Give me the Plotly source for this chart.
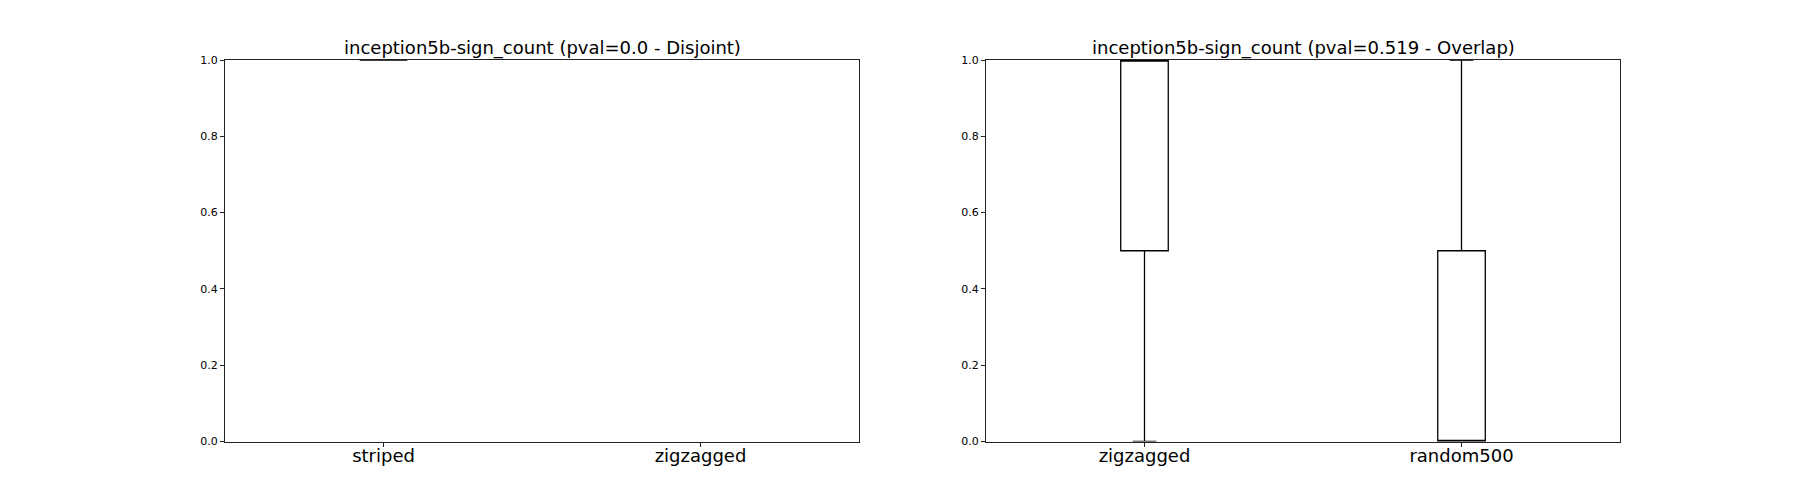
import plotly.graph_objects as go

# Left panel: striped vs zigzagged (pval=0.0 - Disjoint)
left_title = "inception5b-sign_count (pval=0.0 - Disjoint)"
left_categories = ["striped", "zigzagged"]
left_q1 = [1.0, None]
left_median = [1.0, None]
left_q3 = [1.0, None]
left_lower = [1.0, None]
left_upper = [1.0, None]

# Right panel: zigzagged vs random500 (pval=0.519 - Overlap)
right_title = "inception5b-sign_count (pval=0.519 - Overlap)"
right_categories = ["zigzagged", "random500"]
right_q1 = [0.5, 0.0]
right_median = [1.0, 0.0]
right_q3 = [1.0, 0.5]
right_lower = [0.0, 0.0]
right_upper = [1.0, 1.0]

y_ticks = [0.0, 0.2, 0.4, 0.6, 0.8, 1.0]

W, H = 1800, 504
OFF = 8  # page body margin offset

fig = go.Figure()

def add_boxes(cats, q1, med, q3, lo, hi, xa, ya):
    for i, c in enumerate(cats):
        if q1[i] is None:
            continue
        fig.add_trace(go.Box(
            x=[i + 1], q1=[q1[i]], median=[med[i]], q3=[q3[i]],
            lowerfence=[lo[i]], upperfence=[hi[i]],
            width=0.15, whiskerwidth=0.5,
            line=dict(color="black", width=1.3),
            fillcolor="rgba(255,255,255,0)",
            boxpoints=False, showlegend=False, hoverinfo="skip",
            xaxis=xa, yaxis=ya, name=c,
        ))

add_boxes(left_categories, left_q1, left_median, left_q3, left_lower, left_upper, "x", "y")
add_boxes(right_categories, right_q1, right_median, right_q3, right_lower, right_upper, "x2", "y2")

axis_common = dict(showline=True, linecolor="#222", linewidth=1, mirror=True,
                   showgrid=False, zeroline=False, ticks="outside", ticklen=4,
                   tickcolor="#222", automargin=False)
ydom = [1 - (441.5 - OFF) / H, 1 - (60 - OFF) / H]
xdom1 = [(225 - OFF) / W, (859 - OFF) / W]
xdom2 = [(986 - OFF) / W, (1620 - OFF) / W]
title_y = 1 - (48 - OFF) / H

fig.update_layout(
    width=W, height=H,
    margin=dict(l=0, r=0, t=0, b=0),
    paper_bgcolor="white", plot_bgcolor="white",
    font=dict(family="DejaVu Sans", color="black"),
    xaxis=dict(domain=xdom1, range=[0.5, 2.5],
               tickvals=[1, 2], ticktext=left_categories,
               tickfont=dict(size=18), ticklabelstandoff=-6, **axis_common),
    xaxis2=dict(domain=xdom2, range=[0.5, 2.5],
                tickvals=[1, 2], ticktext=right_categories,
                tickfont=dict(size=18), ticklabelstandoff=-6, anchor="y2", **axis_common),
    yaxis=dict(domain=ydom, range=[0, 1], tickvals=y_ticks,
               ticktext=[f"{v:.1f}" for v in y_ticks],
               tickfont=dict(size=11), **axis_common),
    yaxis2=dict(domain=ydom, range=[0, 1], tickvals=y_ticks,
                ticktext=[f"{v:.1f}" for v in y_ticks],
                tickfont=dict(size=11), anchor="x2", **axis_common),
    annotations=[
        dict(text=left_title, x=(xdom1[0] + xdom1[1]) / 2, y=title_y,
             xref="paper", yref="paper", xanchor="center", yanchor="middle",
             showarrow=False, font=dict(size=18)),
        dict(text=right_title, x=(xdom2[0] + xdom2[1]) / 2, y=title_y,
             xref="paper", yref="paper", xanchor="center", yanchor="middle",
             showarrow=False, font=dict(size=18)),
    ],
)

fig.write_html("out.html")
